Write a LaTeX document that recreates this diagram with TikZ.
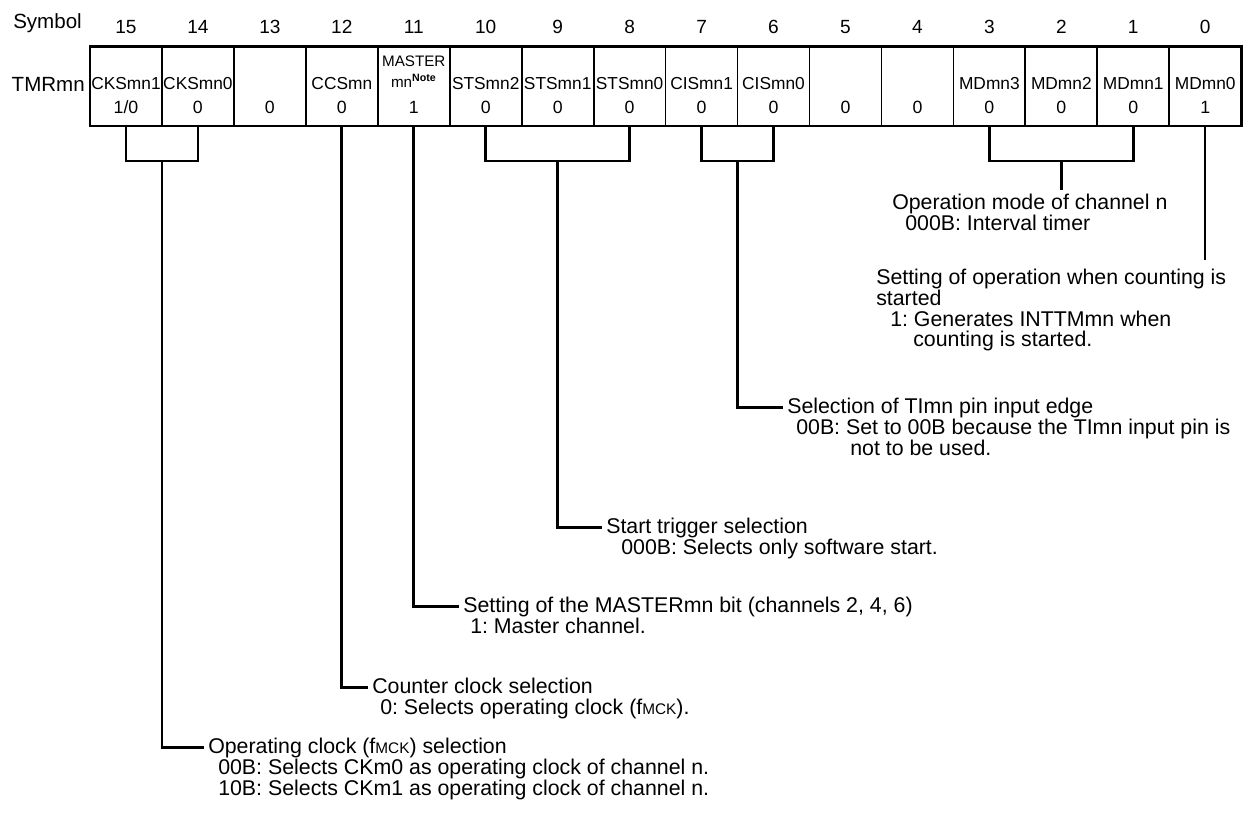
\documentclass[tikz,border=0pt]{standalone}
\usepackage{fontspec}
\setmainfont{Liberation Sans}
\usetikzlibrary{calc}
\newcommand\descfont{\fontsize{16}{15.4}\selectfont}
\newcommand\mckfont{\fontsize{11.5}{11}\selectfont}
\frenchspacing
\begin{document}
\begin{tikzpicture}[x=0.75pt,y=-0.75pt,
 cell/.style={draw, line width=1.3pt, minimum width=53.96pt, minimum height=59.6pt, inner sep=0pt, outer sep=0pt},
 bitn/.style={font=\fontsize{14.3}{16}\selectfont, inner sep=0pt, anchor=base},
 nm/.style={font=\fontsize{13}{15}\selectfont, inner sep=0pt, anchor=base},
 vl/.style={font=\fontsize{13.3}{15}\selectfont, inner sep=0pt, anchor=base},
 mst/.style={font=\fontsize{11.4}{12}\selectfont, inner sep=0pt, anchor=base},
 lbl/.style={font=\fontsize{15.4}{17}\selectfont, inner sep=0pt},
 ttl/.style={font=\descfont, inner sep=0pt, anchor=base west, text height=11.7pt, text depth=3.2pt},
 dsc/.style={font=\descfont, inner sep=0pt, anchor=north west, align=left},
 conn/.style={line width=2pt},
 thinconn/.style={line width=1.5pt},
 outerb/.style={line width=2.2pt}]
\useasboundingbox (0,0) rectangle (1244,815);
% register cells and bit numbers
\foreach \b in {15,14,...,0}{
  \pgfmathsetmacro\cx{90+(15.5-\b)*71.95}
  \node[cell] (c\b) at (\cx,86.25) {};
  \node[bitn] (b\b) at (\cx,33) {\b};
}
\node[lbl, anchor=base west] (sym) at (13,28) {Symbol};
\node[lbl, anchor=base east] (reg) at (85,91.7) {TMRmn};
% bit names
\foreach \b/\t in {15/CKSmn1,14/CKSmn0,12/CCSmn,10/STSmn2,9/STSmn1,8/STSmn0,7/CISmn1,6/CISmn0,3/MDmn3,2/MDmn2,1/MDmn1,0/MDmn0}
  \node[nm] (n\b) at ($(c\b)+(0,2.9)$) {\t};
\node[mst] (n11a) at ($(c11)+(0,-20.25)$) {MASTER};
\node[mst] (n11b) at ($(c11)+(0,0.75)$) {mn\textsuperscript{\textbf{Note}}};
% values
\node[vl] (v15) at ($(c15)+(0,26.75)$) {1/0};
\foreach \b/\t in {14/0,13/0,12/0,11/1,10/0,9/0,8/0,7/0,6/0,5/0,4/0,3/0,2/0,1/0,0/1}
  \node[vl] (v\b) at ($(c\b)+(0,26.75)$) {\t};
\draw[outerb] (c15.north west) rectangle (c0.south east);
% description texts
\node[ttl] (tCKS) at (208,753) {Operating clock (f{\mckfont MCK}) selection};
\node[dsc] (dCKS) at (218,759) {00B: Selects CKm0 as operating clock of channel n.\\10B: Selects CKm1 as operating clock of channel n.};
\node[ttl] (tCCS) at (372,693) {Counter clock selection};
\node[dsc] (dCCS) at (380,699) {0: Selects operating clock (f{\mckfont MCK}).};
\node[ttl] (tMS) at (463,612) {Setting of the MASTERmn bit (channels 2, 4, 6)};
\node[dsc] (dMS) at (470,618) {1: Master channel.};
\node[ttl] (tSTS) at (606,533) {Start trigger selection};
\node[dsc] (dSTS) at (621,539) {000B: Selects only software start.};
\node[ttl] (tCIS) at (787,413) {Selection of TImn pin input edge};
\node[dsc] (dCIS) at (796,419) {00B: Set to 00B because the TImn input pin is\\\hspace*{40.5pt}not to be used.};
\node[ttl] (tMD) at (892,209) {Operation mode of channel n};
\node[dsc] (dMD) at (905,215) {000B: Interval timer};
\node[ttl] (tMD0) at (876,284) {Setting of operation when counting is};
\node[dsc] (dMD0) at (876,290) {started\\\hspace*{10.5pt}1: Generates INTTMmn when\\\hspace*{27.75pt}counting is started.};
% brackets
\coordinate (brk) at (0,161);
\coordinate (mdend) at (0,190);
\coordinate (mdzend) at (0,260);
\draw[conn] (c15.south) -- (c15.south |- brk) -- (c14.south |- brk) -- (c14.south);
\draw[conn] (c10.south) -- (c10.south |- brk) -- (c8.south |- brk) -- (c8.south);
\draw[conn] (c7.south) -- (c7.south |- brk) -- (c6.south |- brk) -- (c6.south);
\draw[conn] (c3.south) -- (c3.south |- brk) -- (c1.south |- brk) -- (c1.south);
% stems
\draw[conn, shorten >=3pt] (c15.south east |- brk) |- (tCKS.west);
\draw[conn, shorten >=3pt] (c12.south) |- (tCCS.west);
\draw[conn, shorten >=3pt] (c11.south) |- (tMS.west);
\draw[conn, shorten >=3pt] (c9.south |- brk) |- (tSTS.west);
\draw[conn, shorten >=3pt] (c7.south east |- brk) |- (tCIS.west);
\draw[conn] (c2.south |- brk) -- (c2.south |- mdend);
\draw[thinconn] (c0.south) -- (c0.south |- mdzend);
\end{tikzpicture}
\end{document}
